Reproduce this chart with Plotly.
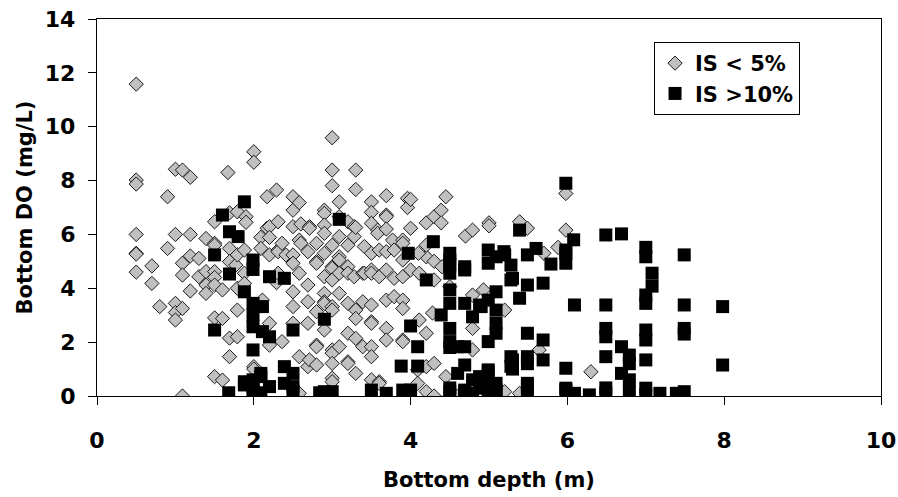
import plotly.graph_objects as go

# IS < 5% (diamonds): depth (m) and bottom DO (mg/L)
low_depth = (
    [0.5]*7 + [0.7]*2 + [0.8] + [0.9]*2 + [1.0]*5 + [1.09]*5 + [1.19]*4 + [1.3]*2 +
    [1.39]*4 + [1.5]*8 + [1.6]*3 + [1.67] + [1.69]*5 + [1.77] + [1.79]*5 + [1.88]*3 +
    [1.9]*2 + [2.0]*4 + [2.09]*2 + [2.11] + [2.17]*2 + [2.2]*5 + [2.29]*2 + [2.31]*4 +
    [2.36]*2 + [2.41] + [2.5]*8 + [2.58]*5 + [2.6]*2 + [2.69]*5 + [2.71]*3 + [2.8]*7 +
    [2.9]*10 + [3.0]*14 + [3.09]*8 + [3.2]*8 + [3.28]*3 + [3.3]*7 + [3.39]*3 + [3.41]*2 +
    [3.5]*12 + [3.58]*2 + [3.6]*4 + [3.69]*9 + [3.77] + [3.79]*3 + [3.9]*8 + [3.96]*2 +
    [4.0]*3 + [4.09]*2 + [4.11]*2 + [4.2]*5 + [4.28] + [4.3]*4 + [4.39]*2 + [4.45]*2 +
    [4.5]*2 + [4.6] + [4.7] + [4.79]*4 + [4.93] + [5.0]*2 + [5.2]*2 + [5.39]*2 + [5.49] +
    [5.64] + [5.7] + [5.88] + [5.98]*2 + [6.3] + [4.1, 4.3, 4.4, 4.2]
)
low_do = [
    11.58, 8.02, 7.87, 6.0, 5.3, 5.27, 4.6,
    4.83, 4.18,
    3.32,
    7.4, 5.48,
    8.42, 6.0, 3.44, 3.1, 2.82,
    8.39, 4.93, 4.49, 3.25, 0.0,
    8.12, 6.0, 5.2, 3.9,
    5.11, 4.43,
    5.85, 4.62, 4.12, 3.81,
    6.47, 5.67, 5.6, 4.62, 4.4, 4.12, 2.9, 0.72,
    3.94, 2.88, 0.59,
    8.3,
    6.8, 5.48, 4.99, 2.15, 1.46,
    4.86,
    6.84, 5.24, 4.0, 3.19, 2.2,
    5.42, 4.56, 4.18,
    6.66, 6.45,
    9.07, 8.68, 1.09, 1.0,
    5.89, 5.48,
    3.56,
    7.4, 6.23,
    6.29, 5.89, 5.24, 2.7, 1.89,
    7.65, 4.21,
    6.47, 5.42, 5.36, 4.56,
    5.67, 2.02,
    5.24,
    7.4, 6.9, 6.29, 5.24, 4.93, 3.87, 3.32, 2.7,
    7.18, 5.79, 4.56, 1.46, 0.1,
    6.39, 5.67,
    5.36, 4.12, 3.5, 2.7, 1.09,
    6.29, 6.23, 1.34,
    5.67, 4.99, 4.93, 3.13, 1.89, 1.83, 1.15,
    6.9, 6.78, 6.35, 6.04, 5.3, 4.43, 3.81, 3.5, 3.44, 2.45,
    9.59, 8.39, 7.81, 5.6, 4.8, 4.74, 4.31, 3.32, 3.19, 1.71, 1.59, 1.21, 0.66, 0.53,
    7.21, 6.66, 5.92, 5.17, 5.05, 4.56, 3.81, 1.83,
    6.47, 5.6, 4.8, 4.56, 3.44, 2.33, 1.27, 1.21,
    6.29, 5.92, 4.43,
    8.39, 7.67, 6.26, 3.19, 2.14, 2.88, 0.84,
    4.56, 3.5, 1.83,
    5.55, 4.56,
    7.21, 6.82, 6.41, 5.3, 4.68, 4.56, 3.38, 2.76, 2.7, 1.83, 1.46, 0.6,
    6.16, 6.04,
    5.42, 4.43, 0.53, 0.47,
    7.44, 6.72, 6.66, 6.2, 5.36, 4.68, 3.56, 2.51, 2.08,
    5.79,
    5.42, 4.37, 3.69,
    5.79, 5.67, 5.05, 4.43, 3.56, 3.25, 2.08, 2.02,
    7.34, 7.0,
    7.3, 6.23, 4.68,
    0.97, 0.47,
    4.56, 2.82,
    6.43, 5.17, 2.33, 1.09, 0.16,
    3.08,
    6.66, 4.31, 1.21, 0.0,
    6.9, 6.43,
    7.4, 0.72,
    4.06, 0.0,
    0.0,
    5.94,
    6.16, 3.75, 2.51, 1.71,
    3.94,
    6.43, 6.32,
    3.19, 0.16,
    6.47, 0.1,
    6.23,
    1.71,
    5.3,
    5.52,
    7.52, 6.16,
    0.9,
    5.3, 5.0, 4.8, 5.6,
]

# IS > 10% (squares)
high_depth = (
    [1.5]*2 + [1.6] + [1.68] + [1.69]*2 + [1.8] + [1.88]*4 + [1.99]*9 + [2.09]*3 +
    [2.11]*2 + [2.2]*3 + [2.39]*3 + [2.5]*4 + [2.84] + [2.9]*2 + [3.0] + [3.09] + [3.5] +
    [3.69] + [3.88] + [3.9] + [3.97] + [4.0]*2 + [4.09]*2 + [4.2] + [4.29] + [4.39] +
    [4.5]*11 + [4.6]*2 + [4.69]*7 + [4.79]*3 + [4.88]*3 + [4.9]*2 + [4.99]*9 + [5.09]*8 +
    [5.19] + [5.2] + [5.28]*4 + [5.3]*3 + [5.39]*2 + [5.49]*8 + [5.6] + [5.69]*3 + [5.79] +
    [5.98]*7 + [6.08] + [6.09]*2 + [6.28] + [6.49]*7 + [6.69]*3 + [6.79]*4 + [7.0]*9 +
    [7.08]*2 + [7.18] + [7.39] + [7.49]*5 + [7.98]*2
)
high_do = [
    5.24, 2.45,
    6.72,
    0.12,
    6.1, 4.53,
    5.92,
    7.21, 3.87, 0.53, 0.41,
    5.05, 4.7, 3.44, 3.01, 2.57, 1.71, 0.6, 0.33, 0.16,
    0.84, 0.72, 0.12,
    3.32, 2.39,
    4.43, 2.2, 0.35,
    4.37, 1.09, 0.47,
    2.45, 0.84, 0.35, 0.17,
    0.12,
    2.85, 0.16,
    0.16,
    6.56,
    0.22,
    0.1,
    1.11,
    0.22,
    5.3,
    2.6, 0.22,
    1.83, 1.11,
    4.31,
    5.73,
    3.01,
    5.3, 5.05, 4.87, 4.56, 3.94, 3.44, 2.51, 2.02, 1.8, 0.3, 0.16,
    1.83, 0.84,
    4.8, 4.68, 3.44, 1.83, 1.15, 0.22, 0.16,
    2.94, 0.6, 0.1,
    3.38, 0.72, 0.29,
    3.32, 0.35,
    5.42, 4.93, 3.56, 2.02, 0.97, 0.47, 0.9, 0.35, 0.1,
    5.17, 3.87, 3.19, 2.7, 2.33, 0.47, 0.22, 0.1,
    5.36,
    5.24,
    4.86, 4.31, 1.46, 1.1,
    4.37, 1.34, 1.0,
    6.16, 3.63,
    5.24, 4.12, 2.33, 1.46, 1.2, 0.47, 0.35, 0.1,
    5.48,
    4.19, 2.08, 1.34,
    4.9,
    7.9, 5.42, 5.3, 4.93, 1.03, 0.29, 0.22,
    5.8,
    3.38, 0.1,
    0.04,
    5.98, 3.38, 2.51, 2.2, 1.46, 0.3, 0.1,
    6.02, 1.83, 0.84,
    1.52, 1.2, 0.6, 0.16,
    5.52, 5.17, 3.75, 3.44, 2.45, 2.08, 1.34, 0.29, 0.05,
    4.56, 4.08,
    0.1,
    0.1,
    5.24, 3.38, 2.51, 2.3, 0.16,
    3.32, 1.15,
]

x_ticks = [0, 2, 4, 6, 8, 10]
y_ticks = [0, 2, 4, 6, 8, 10, 12, 14]

FONT = "DejaVu Sans"

fig = go.Figure()
fig.add_trace(go.Scatter(
    x=low_depth, y=low_do, mode="markers", name="IS < 5%",
    marker=dict(symbol="diamond", size=11, color="#C0C0C0",
                line=dict(color="#1a1a1a", width=1)),
))
fig.add_trace(go.Scatter(
    x=high_depth, y=high_do, mode="markers", name="IS >10%",
    marker=dict(symbol="square", size=13, color="#000000",
                line=dict(color="#000000", width=0)),
))

axis_common = dict(
    showgrid=False, zeroline=False, showline=True, mirror=True, automargin=False,
    linecolor="#000000", linewidth=1.3, ticks="outside", ticklen=8,
    tickwidth=1.3, tickcolor="#000000",
    tickfont=dict(family=FONT, size=22, color="#000000", weight="bold"),
)

fig.update_layout(
    width=898, height=497,
    margin=dict(l=97, r=17, t=19, b=101),
    paper_bgcolor="white", plot_bgcolor="white",
    showlegend=True,
    legend=dict(
        x=0.7105, y=0.939, xanchor="left", yanchor="top",
        bgcolor="white", bordercolor="#000000", borderwidth=1,
        font=dict(family=FONT, size=21, color="#000000", weight="bold"),
    ),
    xaxis=dict(
        range=[0, 10], tickvals=x_ticks, ticklabelstandoff=16,
        title=dict(text="Bottom depth (m)", standoff=20,
                   font=dict(family=FONT, size=21, color="#000000", weight="bold")),
        **axis_common,
    ),
    yaxis=dict(
        range=[0, 14], tickvals=y_ticks, ticklabelstandoff=8,
        title=dict(text="Bottom DO (mg/L)", standoff=6,
                   font=dict(family=FONT, size=21, color="#000000", weight="bold")),
        **axis_common,
    ),
)

fig.write_html("out.html")
